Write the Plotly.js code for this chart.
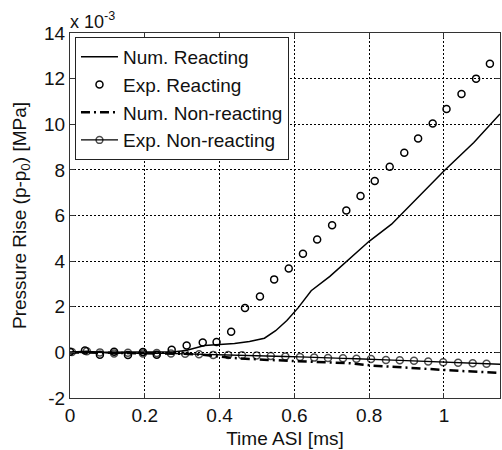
<!DOCTYPE html>
<html>
<head>
<meta charset="utf-8">
<script src="https://cdn.plot.ly/plotly-3.0.1.min.js"></script>
<style>html,body{margin:0;padding:0;background:#fff;}#chart{width:502px;height:450px;}</style>
</head>
<body>
<div id="chart"></div>
<script>
// Num. Reacting (x 1e-3 MPa)
var numReactT = [0, 0.05, 0.1, 0.15, 0.2, 0.25, 0.28, 0.31, 0.33, 0.36, 0.40, 0.44, 0.48, 0.52, 0.55, 0.58, 0.61, 0.645, 0.695, 0.74, 0.80, 0.86, 0.92, 1.00, 1.08, 1.15];
var numReactP = [0, 0.01, 0.0, 0.01, 0.02, 0.02, 0.03, 0.08, 0.18, 0.30, 0.35, 0.39, 0.48, 0.62, 0.95, 1.40, 1.95, 2.70, 3.33, 4.00, 4.87, 5.62, 6.60, 7.95, 9.20, 10.45];

// Exp. Reacting
var expReactT = [0.0, 0.04, 0.08, 0.118, 0.155, 0.195, 0.232, 0.272, 0.312, 0.355, 0.392, 0.431, 0.468, 0.508, 0.546, 0.585, 0.623, 0.661, 0.701, 0.739, 0.777, 0.815, 0.855, 0.894, 0.931, 0.970, 1.007, 1.047, 1.086, 1.123];
var expReactP = [0.03, 0.08, -0.10, 0.03, -0.12, 0.02, -0.10, 0.12, 0.30, 0.43, 0.45, 0.90, 1.95, 2.45, 3.20, 3.68, 4.32, 4.95, 5.57, 6.22, 6.85, 7.51, 8.14, 8.75, 9.38, 10.03, 10.67, 11.33, 12.00, 12.65];

// Num. Non-reacting
var numNonT = [0, 0.1, 0.2, 0.3, 0.35, 0.44, 0.53, 0.62, 0.75, 0.81, 0.94, 1.05, 1.15];
var numNonP = [0, -0.01, -0.02, -0.06, -0.10, -0.25, -0.33, -0.40, -0.48, -0.58, -0.72, -0.82, -0.90];

// Exp. Non-reacting (last point only continues the line)
var expNonT = [0.005, 0.045, 0.08, 0.118, 0.155, 0.195, 0.232, 0.27, 0.308, 0.345, 0.383, 0.423, 0.46, 0.499, 0.537, 0.576, 0.615, 0.653, 0.69, 0.73, 0.766, 0.805, 0.845, 0.882, 0.92, 0.958, 0.998, 1.038, 1.077, 1.114, 1.15];
var expNonP = [0.02, 0.05, 0.0, -0.05, -0.02, -0.05, -0.03, -0.05, -0.06, -0.08, -0.11, -0.12, -0.13, -0.14, -0.16, -0.18, -0.20, -0.23, -0.25, -0.26, -0.28, -0.29, -0.33, -0.35, -0.37, -0.40, -0.43, -0.45, -0.48, -0.50, -0.52];

var xTicks = [0, 0.2, 0.4, 0.6, 0.8, 1];
var yTicks = [-2, 0, 2, 4, 6, 8, 10, 12, 14];

var FONT = 'Liberation Sans, Arial, sans-serif';
var expNonSizes = expNonT.map(function(_, i){ return i === expNonT.length - 1 ? 0 : 7; });

var traces = [
  {x: numReactT, y: numReactP, type: 'scatter', mode: 'lines', name: 'Num. Reacting',
   line: {color: '#000', width: 1.5}},
  {x: expReactT, y: expReactP, type: 'scatter', mode: 'markers', name: 'Exp. Reacting',
   marker: {symbol: 'circle-open', size: 7, color: '#000', line: {width: 1.5, color: '#000'}}},
  {x: numNonT, y: numNonP, type: 'scatter', mode: 'lines', name: 'Num. Non-reacting',
   line: {color: '#000', width: 2.5, dash: '9px,4px,2px,4px'}},
  {x: expNonT, y: expNonP, type: 'scatter', mode: 'lines+markers', name: 'Exp. Non-reacting',
   line: {color: '#000', width: 1.3},
   marker: {symbol: 'circle-open', size: expNonSizes, color: '#000', line: {width: 1.5, color: '#000'}}}
];

var axisCommon = {
  showline: true, linecolor: '#333', linewidth: 1, mirror: 'ticks',
  ticks: 'inside', ticklen: 5, tickcolor: '#333', tickwidth: 1,
  showgrid: true, gridcolor: '#000', gridwidth: 1, griddash: '2px,2px',
  zeroline: false, tickfont: {family: FONT, size: 19, color: '#111'}
};

var layout = {
  width: 502, height: 450,
  margin: {l: 70, r: 2, t: 33, b: 52},
  paper_bgcolor: '#fff', plot_bgcolor: '#fff',
  font: {family: FONT, color: '#111'},
  showlegend: true,
  legend: {x: 0.0116, y: 0.989, xanchor: 'left', yanchor: 'top',
    bgcolor: '#fff', bordercolor: '#222', borderwidth: 1,
    font: {family: FONT, size: 19, color: '#111'}, itemwidth: 37, tracegroupgap: 0},
  xaxis: Object.assign({}, axisCommon, {
    range: [0, 1.15], tickmode: 'array', tickvals: xTicks, ticktext: xTicks.map(String),
    title: {text: 'Time ASI [ms]', font: {family: FONT, size: 19, color: '#111'}, standoff: 6}
  }),
  yaxis: Object.assign({}, axisCommon, {
    range: [-2, 14], tickmode: 'array', tickvals: yTicks, ticktext: yTicks.map(String),
    title: {text: 'Pressure Rise (p-p<sub>0</sub>) [MPa]', font: {family: FONT, size: 19, color: '#111'}, standoff: 12}
  }),
  annotations: [{
    xref: 'paper', yref: 'paper', x: 0, y: 1.033, xanchor: 'left', yanchor: 'middle',
    text: 'x 10<sup>-3</sup>', showarrow: false, xshift: -2,
    font: {family: FONT, size: 18, color: '#111'}
  }]
};

Plotly.newPlot('chart', traces, layout, {displayModeBar: false, staticPlot: true});
</script>
</body>
</html>
